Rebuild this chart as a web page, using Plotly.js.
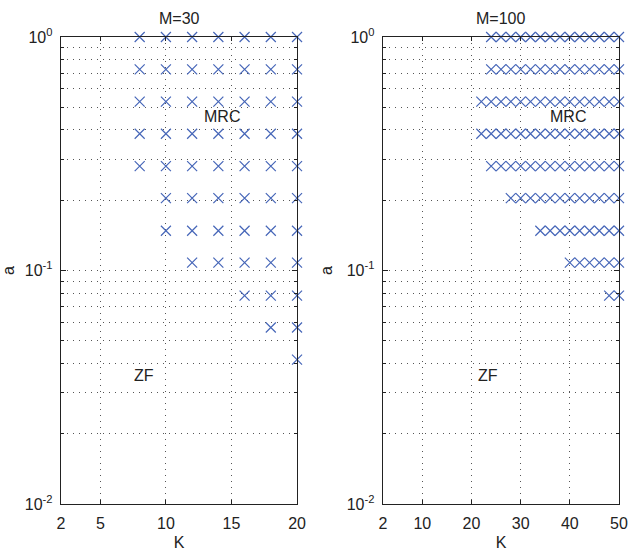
<!DOCTYPE html>
<html>
<head>
<meta charset="utf-8">
<script src="https://cdn.plot.ly/plotly-3.0.1.min.js"></script>
<style>html,body{margin:0;padding:0;background:#fff;}#chart{width:629px;height:551px;}</style>
</head>
<body>
<div id="chart"></div>
<script>
// a values (rows of the grid)
var aValues = [1.0, 0.727, 0.529, 0.385, 0.28, 0.204, 0.148, 0.108, 0.078, 0.057, 0.0415];
// M=30: smallest K with an MRC mark per row (K step 2 up to 20); null = none
var startK30 = [8, 8, 8, 8, 8, 10, 10, 12, 16, 18, 20];
var maxK30 = 20;
// M=100: smallest K with an MRC mark per row (K step 2 up to 50)
var startK100 = [24, 24, 22, 22, 24, 28, 34, 40, 48, null, null];
var maxK100 = 50;
var kStep = 2;

var xTicks30 = [2, 5, 10, 15, 20];
var xTicks100 = [2, 10, 20, 30, 40, 50];
var yTicks = [0.01, 0.1, 1];
var yTickText = ['10<sup>-2</sup>', '10<sup>-1</sup>', '10<sup>0</sup>'];
var yMinor = [0.02,0.03,0.04,0.05,0.06,0.07,0.08,0.09,0.2,0.3,0.4,0.5,0.6,0.7,0.8,0.9];

function buildPoints(starts, maxK) {
  var xs = [], ys = [];
  for (var i = 0; i < aValues.length; i++) {
    if (starts[i] === null) continue;
    for (var k = starts[i]; k <= maxK; k += kStep) { xs.push(k); ys.push(aValues[i]); }
  }
  return {x: xs, y: ys};
}
var p30 = buildPoints(startK30, maxK30);
var p100 = buildPoints(startK100, maxK100);

var blue = '#4666b8';
var mk = {symbol: 'x-thin-open', size: 10, color: blue, line: {color: blue, width: 1.2}};
var traces = [
  {x: p30.x, y: p30.y, type: 'scatter', mode: 'markers', marker: mk, xaxis: 'x', yaxis: 'y', cliponaxis: false, hoverinfo: 'skip'},
  {x: p100.x, y: p100.y, type: 'scatter', mode: 'markers', marker: mk, xaxis: 'x2', yaxis: 'y2', cliponaxis: false, hoverinfo: 'skip'}
];

var fam = 'Liberation Sans';
var font = {family: fam, size: 16, color: '#222'};
var tickFont = {family: fam, size: 16, color: '#222'};
var gridDash = '1px,5px';
var gridColor = '#555';
function xAxis(range, ticks, domain, anchor) {
  return {
    domain: domain, anchor: anchor, range: range, tickmode: 'array', tickvals: ticks,
    ticks: 'inside', ticklen: 4, tickcolor: '#222', mirror: 'allticks', showline: true,
    linecolor: '#222', linewidth: 1.3, showgrid: true, gridcolor: gridColor, griddash: gridDash, gridwidth: 1,
    zeroline: false, tickfont: tickFont, ticklabelstandoff: 4, title: {text: 'K', font: font, standoff: 6}
  };
}
function yAxis(anchor) {
  return {
    type: 'log', anchor: anchor, domain: [0, 1], range: [-2, 0], tickmode: 'array', tickvals: yTicks, ticktext: yTickText,
    ticks: 'inside', ticklen: 5, tickcolor: '#222', mirror: 'allticks', showline: true,
    linecolor: '#222', linewidth: 1.3, showgrid: true, gridcolor: gridColor, griddash: gridDash, gridwidth: 1,
    zeroline: false, tickfont: tickFont, ticklabelstandoff: 4, title: {text: 'a', font: font, standoff: 10},
    minor: {tickmode: 'array', tickvals: yMinor, ticks: 'inside', ticklen: 3, tickcolor: '#222', showgrid: true, gridcolor: gridColor, griddash: gridDash, gridwidth: 1}
  };
}

var layout = {
  width: 629, height: 551,
  margin: {l: 61, r: 10, t: 37, b: 47},
  paper_bgcolor: '#fff', plot_bgcolor: '#fff',
  showlegend: false, font: font,
  xaxis: xAxis([2, 20], xTicks30, [0, 0.423], 'y'),
  yaxis: yAxis('x'),
  xaxis2: xAxis([2, 50], xTicks100, [0.577, 1], 'y2'),
  yaxis2: yAxis('x2'),
  annotations: [
    {text: 'M=30', xref: 'x', yref: 'paper', x: 11, y: 1, yanchor: 'bottom', yshift: 8, showarrow: false, font: font},
    {text: 'M=100', xref: 'x2', yref: 'paper', x: 26, y: 1, yanchor: 'bottom', yshift: 8, showarrow: false, font: font},
    {text: 'MRC', xref: 'x', yref: 'y', x: 14.3, y: Math.log10(0.455), showarrow: false, font: font},
    {text: 'ZF', xref: 'x', yref: 'y', x: 8.3, y: Math.log10(0.0356), showarrow: false, font: font},
    {text: 'MRC', xref: 'x2', yref: 'y2', x: 39.6, y: Math.log10(0.455), showarrow: false, font: font},
    {text: 'ZF', xref: 'x2', yref: 'y2', x: 23.4, y: Math.log10(0.0356), showarrow: false, font: font}
  ]
};
Plotly.newPlot('chart', traces, layout, {displayModeBar: false, staticPlot: true});
</script>
</body>
</html>
